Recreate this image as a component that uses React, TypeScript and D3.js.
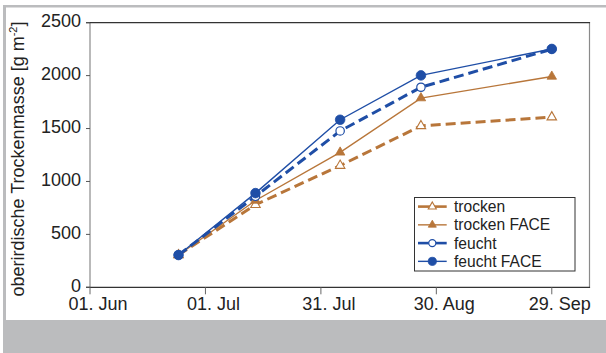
import React from "react";
import * as d3 from "d3";

const dates = ["2000-06-24", "2000-07-14", "2000-08-05", "2000-08-26", "2000-09-29"];
const trocken = [305, 780, 1150, 1525, 1608];
const trockenFACE = [305, 820, 1275, 1788, 1992];
const feucht = [305, 860, 1477, 1890, 2250];
const feuchtFACE = [305, 890, 1583, 2002, 2252];

const xTickDates = ["2000-06-01", "2000-07-01", "2000-07-31", "2000-08-30", "2000-09-29"];
const xTickLabels = ["01. Jun", "01. Jul", "31. Jul", "30. Aug", "29. Sep"];
const yTicks = [0, 500, 1000, 1500, 2000, 2500];

const BLUE = "#1f4ea6";
const BROWN = "#b8763a";
const FONT = "'Liberation Sans', Arial, Helvetica, sans-serif";

type Series = { name: string; values: number[]; color: string; dashed: boolean; marker: "triOpen" | "triFill" | "circOpen" | "circFill" };

const series: Series[] = [
  { name: "trocken", values: trocken, color: BROWN, dashed: true, marker: "triOpen" },
  { name: "trocken FACE", values: trockenFACE, color: BROWN, dashed: false, marker: "triFill" },
  { name: "feucht", values: feucht, color: BLUE, dashed: true, marker: "circOpen" },
  { name: "feucht FACE", values: feuchtFACE, color: BLUE, dashed: false, marker: "circFill" },
];

const parse = (s: string) => new Date(s + "T00:00:00Z");

function Marker({ type, x, y, color, small }: { type: Series["marker"]; x: number; y: number; color: string; small?: boolean }) {
  const k = small ? 0.85 : 1;
  if (type === "triOpen" || type === "triFill") {
    const side = 9.5 * k;
    const p = d3.symbol(d3.symbolTriangle, (Math.sqrt(3) / 4) * side * side)();
    return (
      <path
        d={p || ""}
        transform={`translate(${x},${y})`}
        fill={type === "triFill" ? color : "#fff"}
        stroke={color}
        strokeWidth={type === "triFill" ? 0.8 : 1.1}
      />
    );
  }
  const r = (type === "circFill" ? 4.8 : 4.2) * k;
  return (
    <circle
      cx={x}
      cy={y}
      r={r}
      fill={type === "circFill" ? color : "#fff"}
      stroke={color}
      strokeWidth={type === "circFill" ? 0.8 : 1.2}
    />
  );
}

export default function App() {
  const W = 606;
  const H = 353;
  const left = 90;
  const right = 589.5;
  const top = 22.7;
  const bottom = 287.3;

  const x = d3
    .scaleUtc()
    .domain([parse("2000-06-01"), new Date(parse("2000-06-01").getTime() + 129.8 * 864e5)])
    .range([left, right]);
  const y = d3.scaleLinear().domain([0, 2500]).range([bottom, top]);

  const line = d3
    .line<[Date, number]>()
    .x((d) => x(d[0]))
    .y((d) => y(d[1]));

  const pts = (vals: number[]) => dates.map((d, i) => [parse(d), vals[i]] as [Date, number]);

  const legendX = 414.5;
  const legendY = 197.5;
  const rowY0 = 206.6;
  const rowStep = 18.25;

  return (
    <svg
      width={W}
      height={H}
      style={{ position: "absolute", left: 0, top: 0, background: "#fff" }}
      fontFamily={FONT}
    >
      {/* outer frame */}
      <rect x={3} y={5} width={W - 3} height={2.5} fill="#bbbcbe" />
      <rect x={3} y={5} width={3} height={320 - 5} fill="#bbbcbe" />
      <rect x={3} y={320} width={W - 3} height={H - 320} fill="#bbbcbe" />

      {/* plot frame */}
      <line x1={left} x2={left} y1={top} y2={bottom} stroke="#8a8a8a" strokeWidth={1.2} />
      <line x1={right} x2={right} y1={top} y2={bottom} stroke="#8a8a8a" strokeWidth={1.2} />
      <line x1={left - 4} x2={right + 0.6} y1={top} y2={top} stroke="#333" strokeWidth={1.2} />
      <line x1={left - 4} x2={right + 0.6} y1={bottom} y2={bottom} stroke="#333" strokeWidth={1.2} />

      {/* y ticks */}
      {yTicks.map((t) => (
        <g key={t}>
          <line x1={left - 4} x2={left} y1={y(t)} y2={y(t)} stroke="#555" strokeWidth={1} />
          <text x={81} y={y(t) - 1.5} textAnchor="end" dominantBaseline="central" fontSize={18} fill="#222">
            {t}
          </text>
        </g>
      ))}

      {/* x ticks */}
      {xTickDates.map((d, i) => {
        const xx = x(parse(d));
        return (
          <g key={d}>
            <line x1={xx} x2={xx} y1={bottom} y2={bottom + 7} stroke="#666" strokeWidth={1} />
            <text x={xx + 8} y={309.5} textAnchor="middle" fontSize={18} fill="#222">
              {xTickLabels[i]}
            </text>
          </g>
        );
      })}

      {/* y label */}
      <text
        transform={`translate(24,159) rotate(-90)`}
        textAnchor="middle"
        fontSize={18}
        fill="#222"
      >
        oberirdische Trockenmasse [g m
        <tspan dy={-7} fontSize={11}>
          -2
        </tspan>
        <tspan dy={7}>]</tspan>
      </text>

      {/* lines */}
      {series.map((s) => (
        <path
          key={s.name}
          d={line(pts(s.values)) || ""}
          fill="none"
          stroke={s.color}
          strokeWidth={s.dashed ? 3 : 1.4}
          strokeDasharray={s.dashed ? "10,5" : undefined}
        />
      ))}

      {/* markers */}
      {series.map((s) => (
        <g key={s.name + "m"}>
          {pts(s.values).map((p, i) => (
            <Marker key={i} type={s.marker} x={x(p[0])} y={y(p[1])} color={s.color} />
          ))}
        </g>
      ))}

      {/* legend */}
      <rect x={legendX} y={legendY} width={160.5} height={73.5} fill="#fff" stroke="#333" strokeWidth={1} />
      {series.map((s, i) => {
        const ry = rowY0 + i * rowStep;
        return (
          <g key={s.name + "l"}>
            <line x1={418} x2={446.7} y1={ry} y2={ry} stroke={s.color} strokeWidth={s.dashed ? 2.6 : 1.4} />
            <Marker type={s.marker} x={432.3} y={ry} color={s.color} small />
            <text x={454} y={ry} dominantBaseline="central" fontSize={15.6} fill="#222">
              {s.name}
            </text>
          </g>
        );
      })}
    </svg>
  );
}
